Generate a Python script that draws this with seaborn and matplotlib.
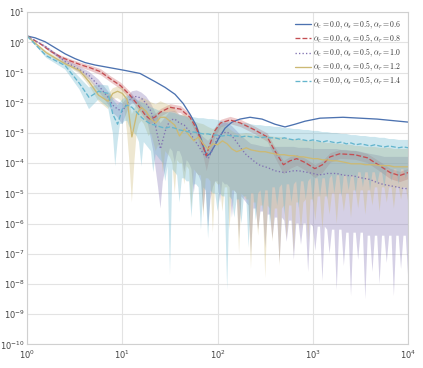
import numpy as np
import matplotlib
matplotlib.use("Agg")
import matplotlib.pyplot as plt
import seaborn as sns

# all numbers below are powers of ten (log10 of the value)

# alpha_r = 0.6 (no visible band)
blue_x = [0, .084, .189, .294, .399, .504, .609, .714, .871, 1.028,
          1.186, 1.343, 1.448, 1.553, 1.637, 1.710, 1.773, 1.826, 1.857, 1.889,
          1.920, 1.962, 2.015, 2.078, 2.151, 2.235, 2.340, 2.466, 2.602, 2.707,
          2.812, 2.917, 3.074, 3.316, 3.673, 4.0]
blue_y = [.21, .15, .02, -.18, -.38, -.54, -.67, -.75, -.84, -.93,
          -1.03, -1.30, -1.49, -1.72, -2.02, -2.38, -2.74, -3.20, -3.53, -3.75,
          -3.69, -3.46, -3.16, -2.84, -2.64, -2.54, -2.48, -2.54, -2.71, -2.80,
          -2.71, -2.61, -2.51, -2.48, -2.54, -2.64]

# alpha_r = 0.8
red_x = [0, .14, .24, .35, .45, .56, .66, .77, .87, .98,
         1.08, 1.19, 1.24, 1.29, 1.34, 1.40, 1.50, 1.61, 1.71, 1.78,
         1.85, 1.88, 1.92, 1.97, 2.03, 2.13, 2.24, 2.39, 2.52, 2.60,
         2.69, 2.76, 2.83, 2.92, 3.02, 3.10, 3.18, 3.28, 3.44, 3.57,
         3.70, 3.81, 3.91, 4.0]
red_y = [.21, -.05, -.28, -.48, -.61, -.74, -.84, -.97, -1.20, -1.43,
         -1.75, -2.18, -2.41, -2.54, -2.48, -2.31, -2.15, -2.21, -2.48, -2.87,
         -3.46, -3.75, -3.36, -2.93, -2.67, -2.57, -2.67, -2.90, -3.13, -3.59,
         -4.05, -3.92, -3.85, -3.98, -4.18, -4.05, -3.79, -3.69, -3.72, -3.82,
         -4.08, -4.31, -4.41, -4.31]
red_up = [0, .02, .04, .06, .07, .08, .09, .1, .1, .11,
          .12, .12, .12, .12, .12, .12, .12, .12, .12, .12,
          .13, .13, .13, .12, .12, .12, .12, .12, .13, .13,
          .14, .14, .14, .14, .14, .14, .14, .14, .14, .14,
          .14, .14, .14, .14]
red_down = [0, .02, .04, .06, .07, .08, .09, .1, .1, .11,
            .12, .14, .15, .15, .14, .13, .12, .12, .13, .2,
            .35, .5, .35, .18, .13, .12, .12, .13, .15, .22,
            .3, .25, .22, .25, .3, .25, .18, .15, .15, .16,
            .18, .2, .2, .2]

# x of the three wide curves and of their upper band edge
wide_x = [0, .2, .4, .55, .65, .75, .85,
          .9, .95, 1.0, 1.05, 1.1, 1.15, 1.2, 1.25, 1.3, 1.35,
          1.4, 1.45, 1.5, 1.55, 1.6, 1.65, 1.7, 1.75, 1.8, 1.85,
          1.9, 1.95, 2.0, 2.05, 2.1, 2.15, 2.2, 2.25, 2.3, 2.35,
          2.4, 2.45, 2.5, 2.55, 2.6, 2.65, 2.7, 2.75, 2.8, 2.85,
          2.9, 2.95, 3.0, 3.05, 3.1, 3.15, 3.2, 3.25, 3.3, 3.35,
          3.4, 3.45, 3.5, 3.55, 3.6, 3.65, 3.7, 3.75, 3.8, 3.85,
          3.9, 3.95, 4.0]

# x of the (spiky) lower band edge
low_x = [0, .2, .4, .55, .65, .75, .85,
         .9, .925, .95, .975, 1.0, 1.025, 1.05, 1.075, 1.1, 1.125, 1.15, 1.175,
         1.2, 1.225, 1.25, 1.275, 1.3, 1.325, 1.35, 1.375, 1.4, 1.425, 1.45, 1.475,
         1.5, 1.525, 1.55, 1.575, 1.6, 1.625, 1.65, 1.675, 1.7, 1.725, 1.75, 1.775,
         1.8, 1.825, 1.85, 1.875, 1.9, 1.925, 1.95, 1.975, 2.0, 2.025, 2.05, 2.075,
         2.1, 2.125, 2.15, 2.175, 2.2, 2.225, 2.25, 2.275, 2.3, 2.325, 2.35, 2.375,
         2.4, 2.425, 2.45, 2.475, 2.5, 2.525, 2.55, 2.575, 2.6, 2.625, 2.65, 2.675,
         2.7, 2.725, 2.75, 2.775, 2.8, 2.825, 2.85, 2.875, 2.9, 2.925, 2.95, 2.975,
         3.0, 3.025, 3.05, 3.075, 3.1, 3.125, 3.15, 3.175, 3.2, 3.225, 3.25, 3.275,
         3.3, 3.325, 3.35, 3.375, 3.4, 3.425, 3.45, 3.475, 3.5, 3.525, 3.55, 3.575,
         3.6, 3.625, 3.65, 3.675, 3.7, 3.725, 3.75, 3.775, 3.8, 3.825, 3.85, 3.875,
         3.9, 3.925, 3.95, 3.975, 4.0]

# alpha_r = 1.0
purple_y = [.21, -.15, -.64, -.90, -1.10, -1.43, -1.82,
            -2.08, -2.21, -2.28, -2.02, -1.82, -1.79, -1.85, -2.02, -2.28, -2.80,
            -3.53, -2.93, -2.57, -2.54, -2.67, -2.74, -2.93, -3.20, -3.43, -3.69,
            -3.85, -3.53, -3.13, -3.00, -2.97, -3.10, -3.30, -3.53, -3.72, -3.85,
            -3.98, -4.08, -4.12, -4.18, -4.25, -4.28, -4.31, -4.28, -4.25, -4.25,
            -4.28, -4.31, -4.34, -4.38, -4.38, -4.34, -4.34, -4.34, -4.38, -4.41,
            -4.41, -4.44, -4.48, -4.51, -4.54, -4.61, -4.67, -4.71, -4.74, -4.77,
            -4.80, -4.84, -4.84]
purple_hi = [.21, -.12, -.57, -.80, -.97, -1.23, -1.62,
             -1.82, -1.95, -2.02, -1.82, -1.62, -1.59, -1.66, -1.79, -2.02, -2.34,
             -2.67, -2.48, -2.28, -2.28, -2.38, -2.44, -2.57, -2.74, -2.93, -3.13,
             -3.26, -3.07, -2.80, -2.67, -2.67, -2.77, -2.93, -3.10, -3.23, -3.36,
             -3.39, -3.43, -3.46, -3.46, -3.46, -3.46, -3.46, -3.46, -3.46, -3.49,
             -3.49, -3.49, -3.53, -3.53, -3.53, -3.53, -3.53, -3.53, -3.56, -3.56,
             -3.59, -3.59, -3.62, -3.66, -3.69, -3.72, -3.75, -3.79, -3.79, -3.79,
             -3.79, -3.79, -3.79]
purple_lo = [.21, -.18, -.71, -1.00, -1.23, -1.62, -2.05,
             -2.34, -2.4, -2.48, -2.6, -2.71, -2.5, -2.3, -2.1,
             -2.02, -2.02, -2.02, -2.1, -2.15, -2.3, -2.48, -2.8,
             -3.2, -3.6, -4.2, -4.8, -5.5, -4.6, -4.2, -3.8,
             -3.5, -3.6, -4.0, -3.6, -3.6, -3.8, -4.3, -3.9,
             -4.0, -4.2, -5.0, -4.3, -4.4, -4.6, -5.6, -4.8,
             -6.1, -5.2, -4.8, -4.6, -4.6, -5.3, -4.6, -4.7,
             -4.7, -4.8, -5.8, -4.9, -5.0, -6.5, -5.1, -5.2,
             -5.3, -5.4, -7.0, -5.5, -5.5, -6.2, -5.6, -5.6,
             -6.8, -5.7, -5.7, -6.5, -5.8, -5.8, -7.3, -5.8,
             -5.9, -6.6, -5.9, -5.9, -7.2, -6.0, -6.0, -6.7,
             -6.0, -6.0, -7.6, -6.0, -6.1, -6.9, -6.1, -6.1,
             -7.9, -6.1, -6.2, -7.0, -6.2, -6.2, -8.2, -6.2,
             -6.2, -7.4, -6.3, -6.3, -8.4, -6.3, -6.3, -7.2,
             -6.3, -6.3, -8.5, -6.4, -6.4, -7.6, -6.4, -6.4,
             -8.0, -6.4, -6.4, -7.3, -6.4, -6.4, -8.4, -6.4,
             -6.4, -7.5, -6.4, -6.4, -7.8]

# alpha_r = 1.2
yellow_y = [.21, -.34, -.71, -.93, -1.30, -1.75, -1.95,
            -1.69, -1.62, -1.69, -1.89, -3.13, -2.38, -2.15, -2.28, -2.54, -2.67,
            -2.48, -2.48, -2.61, -2.74, -3.10, -2.87, -3.07, -3.26, -3.13, -3.36,
            -3.53, -3.36, -3.39, -3.26, -3.36, -3.53, -3.62, -3.56, -3.49, -3.56,
            -3.59, -3.62, -3.62, -3.66, -3.69, -3.72, -3.72, -3.75, -3.75, -3.79,
            -3.79, -3.82, -3.85, -3.85, -3.89, -3.89, -3.92, -3.92, -3.95, -3.98,
            -4.02, -4.02, -4.02, -4.05, -4.05, -4.05, -4.08, -4.08, -4.08, -4.12,
            -4.12, -4.12, -4.12]
yellow_hi = [.21, -.28, -.64, -.84, -1.16, -1.56, -1.72,
             -1.52, -1.46, -1.49, -1.69, -2.38, -2.02, -1.82, -1.89, -1.98, -2.05,
             -1.95, -2.02, -2.08, -2.21, -2.41, -2.38, -2.48, -2.61, -2.67, -2.71,
             -2.80, -2.87, -2.80, -2.74, -2.80, -2.93, -3.03, -3.03, -3.00, -3.03,
             -3.07, -3.07, -3.07, -3.10, -3.13, -3.13, -3.16, -3.20, -3.20, -3.23,
             -3.23, -3.26, -3.26, -3.30, -3.30, -3.33, -3.33, -3.36, -3.36, -3.39,
             -3.39, -3.43, -3.43, -3.46, -3.46, -3.46, -3.49, -3.49, -3.49, -3.53,
             -3.53, -3.53, -3.53]
yellow_lo = [.21, -.38, -.77, -1.03, -1.43, -1.95, -2.21,
             -1.9, -1.85, -1.85, -1.9, -2.0, -2.3, -3.0, -4.0,
             -5.3, -4.0, -3.0, -2.7, -2.6, -2.7, -2.9, -3.1,
             -3.0, -3.3, -3.6, -3.4, -3.5, -4.3, -3.6, -3.7,
             -3.8, -4.0, -5.0, -3.9, -4.0, -4.0, -4.7, -4.1,
             -4.2, -5.5, -4.2, -4.3, -4.4, -4.4, -5.8, -4.5,
             -4.5, -4.6, -6.3, -4.6, -4.7, -4.7, -5.6, -4.8,
             -4.8, -6.2, -4.9, -4.9, -5.0, -7.0, -5.0, -5.1,
             -5.2, -5.2, -7.5, -5.3, -5.3, -6.4, -5.4, -5.4,
             -7.8, -5.4, -5.5, -6.6, -5.5, -5.5, -7.4, -5.5,
             -5.4, -6.5, -5.4, -5.4, -7.0, -5.3, -5.3, -6.2,
             -5.3, -5.2, -6.6, -5.2, -5.2, -5.9, -5.1, -5.1,
             -6.2, -5.1, -5.1, -5.7, -5.0, -5.0, -6.0, -5.0,
             -5.0, -5.6, -5.0, -5.0, -5.8, -4.9, -4.9, -5.5,
             -4.9, -4.9, -5.7, -4.9, -4.9, -5.4, -4.8, -4.8,
             -5.6, -4.8, -4.8, -5.3, -4.8, -4.8, -5.5, -4.8,
             -4.8, -5.2, -4.8, -4.8, -5.3]

# alpha_r = 1.4
cyan_y = [.21, -.44, -.77, -1.36, -1.82, -1.62, -1.69,
          -2.38, -2.71, -2.21, -2.08, -2.15, -2.31, -2.48, -2.61, -2.71, -2.74,
          -2.80, -2.84, -2.80, -2.84, -2.90, -2.93, -2.97, -2.97, -3.00, -3.03,
          -3.03, -3.07, -3.07, -3.10, -3.07, -3.10, -3.10, -3.13, -3.10, -3.13,
          -3.13, -3.16, -3.13, -3.16, -3.16, -3.20, -3.16, -3.20, -3.23, -3.20,
          -3.23, -3.26, -3.23, -3.26, -3.30, -3.26, -3.30, -3.33, -3.30, -3.36,
          -3.33, -3.39, -3.36, -3.39, -3.43, -3.39, -3.43, -3.46, -3.43, -3.46,
          -3.49, -3.46, -3.49]
cyan_hi = [.21, -.38, -.67, -1.16, -1.49, -1.39, -1.43,
           -1.89, -2.08, -1.89, -1.75, -1.79, -1.89, -1.98, -2.05, -2.15, -2.21,
           -2.28, -2.31, -2.31, -2.34, -2.41, -2.44, -2.48, -2.48, -2.51, -2.51,
           -2.54, -2.54, -2.57, -2.61, -2.61, -2.64, -2.64, -2.67, -2.67, -2.71,
           -2.74, -2.74, -2.77, -2.77, -2.80, -2.80, -2.84, -2.84, -2.87, -2.87,
           -2.90, -2.90, -2.93, -2.93, -2.97, -2.97, -3.00, -3.00, -3.03, -3.03,
           -3.07, -3.07, -3.10, -3.10, -3.13, -3.13, -3.16, -3.16, -3.20, -3.20,
           -3.23, -3.23, -3.23]
cyan_lo = [.21, -.51, -.90, -1.56, -2.21, -1.89, -2.15,
           -3.0, -4.1, -3.3, -2.7, -2.7, -2.6, -2.6, -2.8,
           -2.9, -3.0, -3.1, -3.3, -4.1, -3.3, -3.4, -3.5,
           -3.6, -4.3, -3.7, -3.8, -3.9, -4.0, -4.6, -4.1,
           -7.7, -4.2, -4.3, -4.4, -5.3, -4.5, -4.5, -4.6,
           -4.6, -5.8, -4.7, -4.7, -4.8, -6.2, -4.8, -4.9,
           -6.5, -4.9, -5.0, -5.0, -5.6, -5.0, -5.1, -5.1,
           -8.2, -5.1, -5.2, -5.8, -5.2, -5.2, -6.0, -5.1,
           -5.1, -6.8, -5.0, -5.0, -5.9, -5.0, -4.9, -5.6,
           -4.9, -4.9, -6.1, -4.8, -4.8, -5.4, -4.8, -4.7,
           -5.7, -4.7, -4.7, -5.3, -4.7, -4.6, -5.5, -4.6,
           -4.6, -5.2, -4.6, -4.5, -5.3, -4.5, -4.5, -5.1,
           -4.5, -4.5, -5.2, -4.5, -4.4, -5.0, -4.4, -4.4,
           -5.1, -4.4, -4.4, -4.9, -4.4, -4.4, -5.0, -4.3,
           -4.3, -4.8, -4.3, -4.3, -4.9, -4.3, -4.3, -4.7,
           -4.3, -4.3, -4.8, -4.2, -4.2, -4.6, -4.2, -4.2,
           -4.7, -4.2, -4.2, -4.5, -4.2]

labels = [r'$\alpha_c=0.0, \alpha_s=0.5, \alpha_r=0.6$',
          r'$\alpha_c=0.0, \alpha_s=0.5, \alpha_r=0.8$',
          r'$\alpha_c=0.0, \alpha_s=0.5, \alpha_r=1.0$',
          r'$\alpha_c=0.0, \alpha_s=0.5, \alpha_r=1.2$',
          r'$\alpha_c=0.0, \alpha_s=0.5, \alpha_r=1.4$']

sns.set_style("whitegrid", {"grid.color": "#e3e3e3", "axes.edgecolor": "#d0d0d0"})
plt.rcParams['mathtext.fontset'] = 'cm'

# old seaborn "deep" colours, green skipped
blue, red, purple, yellow, cyan = "#4C72B0", "#C44E52", "#8172B2", "#CCB974", "#64B5CD"

fig = plt.figure(figsize=(4.23, 3.68), dpi=100)
ax = fig.add_axes([0.064, 0.064, 0.901, 0.903])


def p(v):
    return 10.0 ** np.asarray(v, dtype=float)


def band(hi, lo, color):
    # upper edge left->right, lower edge right->left
    xs = np.concatenate([p(wide_x), p(low_x)[::-1]])
    ys = np.concatenate([p(hi), p(lo)[::-1]])
    ax.fill(xs, ys, color=color, alpha=0.33, lw=0)


ry = np.asarray(red_y)
ax.fill_between(p(red_x), p(ry - np.asarray(red_down)), p(ry + np.asarray(red_up)),
                color=red, alpha=0.3, lw=0)
band(purple_hi, purple_lo, purple)
band(yellow_hi, yellow_lo, yellow)
band(cyan_hi, cyan_lo, cyan)

lw = 0.95
sns.lineplot(x=p(blue_x), y=p(blue_y), ax=ax, color=blue, lw=lw, label=labels[0])
sns.lineplot(x=p(red_x), y=p(red_y), ax=ax, color=red, lw=lw, linestyle="--", label=labels[1])
sns.lineplot(x=p(wide_x), y=p(purple_y), ax=ax, color=purple, lw=lw, linestyle=":", label=labels[2])
sns.lineplot(x=p(wide_x), y=p(yellow_y), ax=ax, color=yellow, lw=lw, label=labels[3])
sns.lineplot(x=p(wide_x), y=p(cyan_y), ax=ax, color=cyan, lw=lw, linestyle="--", label=labels[4])

ax.set_xscale("log")
ax.set_yscale("log")
ax.set_xlim(1, 1e4)
ax.set_ylim(1e-10, 1e1)
ax.yaxis.set_major_locator(matplotlib.ticker.LogLocator(base=10, numticks=20))
ax.xaxis.set_minor_locator(matplotlib.ticker.NullLocator())
ax.yaxis.set_minor_locator(matplotlib.ticker.NullLocator())
ax.tick_params(labelsize=6, colors="#444444", length=0)
ax.tick_params(axis="y", pad=1.5)
ax.tick_params(axis="x", pad=3)
ax.grid(True, lw=0.8)

leg = ax.legend(loc="upper right", fontsize=5.6, frameon=False, handlelength=2.1,
                borderaxespad=0.4, labelspacing=0.2, handletextpad=0.3)
for t in leg.get_texts():
    t.set_color("#333333")

fig.savefig("out.png", dpi=100)
